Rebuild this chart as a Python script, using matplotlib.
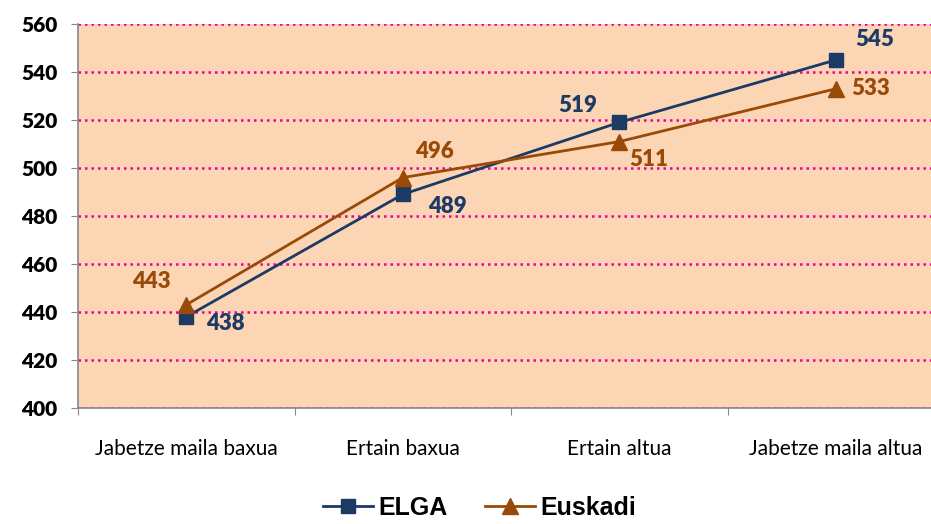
import matplotlib.pyplot as plt
from matplotlib.ticker import MultipleLocator

categories = ["Jabetze maila baxua", "Ertain baxua", "Ertain altua", "Jabetze maila altua"]
elga = [438, 489, 519, 545]
euskadi = [443, 496, 511, 533]

# label offsets (points) for each data label
elga_off = [(28, -5), (32, -9), (-30, 12), (28, 15)]
euskadi_off = [(-25, 17), (23, 19), (21, -13), (25, 0)]

c_elga = "#1B3A66"
c_eus = "#9A4A08"

fig = plt.figure(figsize=(9.31, 5.24), dpi=100)
ax = fig.add_axes([78 / 931, 116 / 524, 866 / 931, 384 / 524])
ax.set_facecolor("#FCD5B5")

x = range(len(categories))
ax.plot(x, elga, color=c_elga, lw=2, marker="s", ms=10, label="ELGA", zorder=3)
ax.plot(x, euskadi, color=c_eus, lw=2, marker="^", ms=11, label="Euskadi", zorder=3)

for i, v in enumerate(elga):
    ax.annotate(str(v), (i, v), xytext=elga_off[i], textcoords="offset points",
                ha="center", va="center", color=c_elga, fontsize=16,
                fontweight="heavy", family="Lato")
for i, v in enumerate(euskadi):
    ax.annotate(str(v), (i, v), xytext=euskadi_off[i], textcoords="offset points",
                ha="center", va="center", color=c_eus, fontsize=16,
                fontweight="heavy", family="Lato")

ax.set_xlim(-0.5, 3.5)
ax.set_ylim(400, 560)
ax.yaxis.set_major_locator(MultipleLocator(20))
ax.grid(axis="y", color="#E6009A", ls=(0, (1, 1.6)), lw=1.8)
ax.set_axisbelow(True)

ax.set_xticks([i - 0.5 for i in range(len(categories))])
ax.set_xticklabels([])
ax.set_xticks(list(x), minor=True)
ax.set_xticklabels(categories, minor=True, fontsize=15, family="Lato")
ax.tick_params(axis="x", which="minor", length=0, pad=22)
ax.tick_params(axis="x", which="major", length=5, color="#888888", direction="out")
ax.tick_params(axis="y", length=5, color="#888888", direction="out", pad=10)
for lab in ax.get_yticklabels():
    lab.set_fontsize(15)
    lab.set_fontweight("heavy")
    lab.set_family("Lato")

for side in ["top", "right"]:
    ax.spines[side].set_visible(False)
ax.spines["left"].set_color("#888888")
ax.spines["bottom"].set_color("#888888")
ax.spines["left"].set_linewidth(1.2)
ax.spines["bottom"].set_linewidth(1.2)

leg = fig.legend(loc="lower center", bbox_to_anchor=(0.515, -0.035), ncol=2, frameon=False,
                 prop={"family": "Liberation Sans", "weight": "bold", "size": 18},
                 handlelength=2.0, columnspacing=1.5, handletextpad=0.2)

fig.savefig("out.png", dpi=100)
